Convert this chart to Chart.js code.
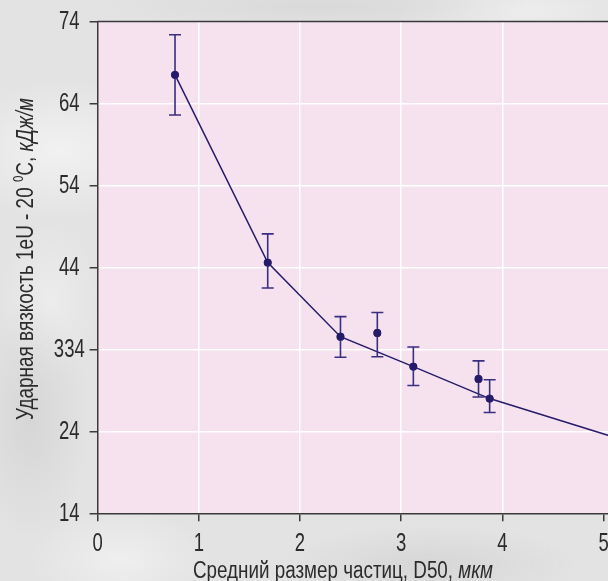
<!DOCTYPE html>
<html>
<head>
<meta charset="utf-8">
<script src="https://cdn.jsdelivr.net/npm/chart.js@4/dist/chart.umd.min.js"></script>
<style>
  html, body { margin: 0; padding: 0; width: 608px; height: 581px; overflow: hidden; }
  body {
    background-color: #e3e3e3;
    background-image:
      radial-gradient(ellipse 110px 70px at 60px 150px, rgba(245,245,245,0.8), rgba(245,245,245,0) 100%),
      radial-gradient(ellipse 60px 120px at 30px 420px, rgba(205,205,205,0.6), rgba(205,205,205,0) 100%),
      radial-gradient(ellipse 150px 40px at 430px 565px, rgba(205,205,205,0.6), rgba(205,205,205,0) 100%),
      radial-gradient(ellipse 220px 25px at 320px 6px, rgba(210,210,210,0.6), rgba(210,210,210,0) 100%),
      radial-gradient(ellipse 90px 50px at 120px 560px, rgba(242,242,242,0.8), rgba(242,242,242,0) 100%),
      radial-gradient(ellipse 50px 80px at 50px 300px, rgba(240,240,240,0.7), rgba(240,240,240,0) 100%),
      radial-gradient(ellipse 120px 30px at 520px 10px, rgba(240,240,240,0.8), rgba(240,240,240,0) 100%);
  }
  #wrap { position: absolute; left: 0; top: 0; width: 660px; height: 581px; }
</style>
</head>
<body>
<div id="wrap"><canvas id="c" width="660" height="581"></canvas></div>
<script>
// ---- data ----
const xValues   = [0.765, 1.681, 2.40, 2.764, 3.12, 3.764, 3.874];
const yValues   = [67.5, 44.6, 35.55, 36.0, 31.9, 30.4, 28.0];
const errHigh   = [72.4, 48.1, 38.0, 38.5, 34.3, 32.6, 30.3];
const errLow    = [62.6, 41.5, 33.05, 33.1, 29.6, 28.2, 26.3];
const curveX    = [0.765, 1.681, 2.40, 3.12, 3.874, 5.05];
const curveY    = [67.5, 44.6, 35.55, 31.9, 28.0, 23.5];
const yTickValues = [14, 24, 34, 44, 54, 64, 74];
const yTickLabels = ['14', '24', '334', '44', '54', '64', '74'];
const xTickValues = [0, 1, 2, 3, 4, 5];
const xTickLabels = ['0', '1', '2', '3', '4', '5'];
const xTitleParts = [['Средний размер частиц, D50, ', 'normal'], ['мкм', 'italic']];
const yTitleParts = [['Ударная вязкость 1eU - 20 ', 'normal'], ['0', 'sup'], ['С, ', 'normal'], ['кДж/м', 'italic']];

const FONT = '"Liberation Sans", Arial, sans-serif';
const TEXTC = '#2b2b2b';
const NAVY = '#261b6b';
const ERRC = '#3a2e80';
const AXIS = '#3a3a3a';

const points = xValues.map((x, i) => ({ x: x, y: yValues[i] }));
const curve = curveX.map((x, i) => ({ x: x, y: curveY[i] }));

const plotBg = {
  id: 'plotBg',
  beforeDraw(chart) {
    const a = chart.chartArea, ctx = chart.ctx;
    ctx.save();
    ctx.fillStyle = '#f5e2ee';
    ctx.fillRect(a.left, a.top, a.right - a.left, a.bottom - a.top);
    ctx.restore();
  },
  beforeDatasetsDraw(chart) {
    const a = chart.chartArea, ctx = chart.ctx;
    ctx.save();
    ctx.strokeStyle = AXIS;
    ctx.lineWidth = 1.5;
    ctx.beginPath();
    ctx.moveTo(a.left, a.top);
    ctx.lineTo(a.right, a.top);
    ctx.stroke();
    ctx.restore();
  }
};

const errorBars = {
  id: 'errorBars',
  afterDatasetsDraw(chart) {
    const xs = chart.scales.x, ys = chart.scales.y, ctx = chart.ctx;
    ctx.save();
    ctx.strokeStyle = ERRC;
    ctx.lineWidth = 1.6;
    const cap = 6;
    xValues.forEach((xv, i) => {
      const px = xs.getPixelForValue(xv);
      const top = ys.getPixelForValue(errHigh[i]);
      const bot = ys.getPixelForValue(errLow[i]);
      ctx.beginPath();
      ctx.moveTo(px, top); ctx.lineTo(px, bot);
      ctx.moveTo(px - cap, top); ctx.lineTo(px + cap, top);
      ctx.moveTo(px - cap, bot); ctx.lineTo(px + cap, bot);
      ctx.stroke();
    });
    const meta = chart.getDatasetMeta(1);
    ctx.fillStyle = NAVY;
    meta.data.forEach(el => {
      ctx.beginPath();
      ctx.arc(el.x, el.y, 3.9, 0, Math.PI * 2);
      ctx.fill();
    });
    ctx.restore();
  }
};

function setFont(ctx, st, size) {
  if (st === 'sup') ctx.font = 'normal ' + Math.round(size * 0.62) + 'px ' + FONT;
  else ctx.font = (st === 'italic' ? 'italic ' : 'normal ') + size + 'px ' + FONT;
}
function measureParts(ctx, parts, size) {
  let w = 0;
  parts.forEach(([t, st]) => { setFont(ctx, st, size); w += ctx.measureText(t).width; });
  return w;
}
// draws parts centered at (0,0) baseline in current transform, fitted to targetWidth
function drawPartsFitted(ctx, parts, size, targetWidth) {
  const w = measureParts(ctx, parts, size);
  const sx = targetWidth / w;
  ctx.scale(sx, 1);
  let x = -w / 2;
  parts.forEach(([t, st]) => {
    setFont(ctx, st, size);
    ctx.fillText(t, x, st === 'sup' ? -size * 0.45 : 0);
    x += ctx.measureText(t).width;
  });
}

const TICK_SIZE = 25, TICK_SX = 0.74;
function drawTickLabel(ctx, text, x, y) {
  ctx.save();
  ctx.translate(x, y);
  ctx.scale(TICK_SX, 1);
  ctx.font = 'normal ' + TICK_SIZE + 'px ' + FONT;
  ctx.textAlign = 'center';
  ctx.textBaseline = 'middle';
  ctx.fillText(text, 0, 0);
  ctx.restore();
}

const labelsAndTitles = {
  id: 'labelsAndTitles',
  afterDraw(chart) {
    const ctx = chart.ctx, xs = chart.scales.x, ys = chart.scales.y;
    ctx.save();
    ctx.fillStyle = TEXTC;
    yTickValues.forEach((v, i) => drawTickLabel(ctx, yTickLabels[i], 69.3, ys.getPixelForValue(v) + 1));
    xTickValues.forEach((v, i) => drawTickLabel(ctx, xTickLabels[i], xs.getPixelForValue(v), 544));
    ctx.textAlign = 'left';
    ctx.textBaseline = 'alphabetic';
    // x title
    ctx.save();
    ctx.translate(343, 578);
    drawPartsFitted(ctx, xTitleParts, 23, 300);
    ctx.restore();
    // y title
    ctx.save();
    ctx.translate(33, 259);
    ctx.rotate(-Math.PI / 2);
    drawPartsFitted(ctx, yTitleParts, 23, 322);
    ctx.restore();
    ctx.restore();
  }
};

new Chart(document.getElementById('c'), {
  type: 'scatter',
  data: {
    datasets: [
      { data: curve, showLine: true, borderColor: NAVY, borderWidth: 1.5, pointRadius: 0, tension: 0, fill: false },
      { data: points, showLine: false, pointRadius: 3.9, backgroundColor: NAVY, borderColor: NAVY, borderWidth: 0 }
    ]
  },
  options: {
    responsive: false,
    animation: false,
    devicePixelRatio: 1,
    layout: { padding: { left: 0, top: 21.6, right: 5.8, bottom: 0 } },
    plugins: { legend: { display: false }, tooltip: { enabled: false } },
    scales: {
      x: {
        type: 'linear', min: 0, max: 5.5,
        afterFit(s) { s.height = 67.7; },
        afterBuildTicks(s) { s.ticks = xTickValues.map(v => ({ value: v })); },
        ticks: { display: false },
        grid: { color: ctx => (ctx.tick && (ctx.tick.value === 0 || ctx.tick.value === 5)) ? 'rgba(0,0,0,0)' : '#ffffff',
                lineWidth: 1.5, tickColor: AXIS, tickLength: 8, drawTicks: true },
        border: { display: true, color: AXIS, width: 1.5 }
      },
      y: {
        type: 'linear', min: 14, max: 74,
        afterFit(s) { s.width = 97.6; },
        afterBuildTicks(s) { s.ticks = yTickValues.map(v => ({ value: v })); },
        ticks: { display: false },
        grid: { color: ctx => (ctx.tick && (ctx.tick.value === 14 || ctx.tick.value === 74)) ? 'rgba(0,0,0,0)' : '#ffffff',
                lineWidth: 1.5, tickColor: AXIS, tickLength: 8, drawTicks: true },
        border: { display: true, color: AXIS, width: 1.5 }
      }
    }
  },
  plugins: [plotBg, errorBars, labelsAndTitles]
});
</script>
</body>
</html>
